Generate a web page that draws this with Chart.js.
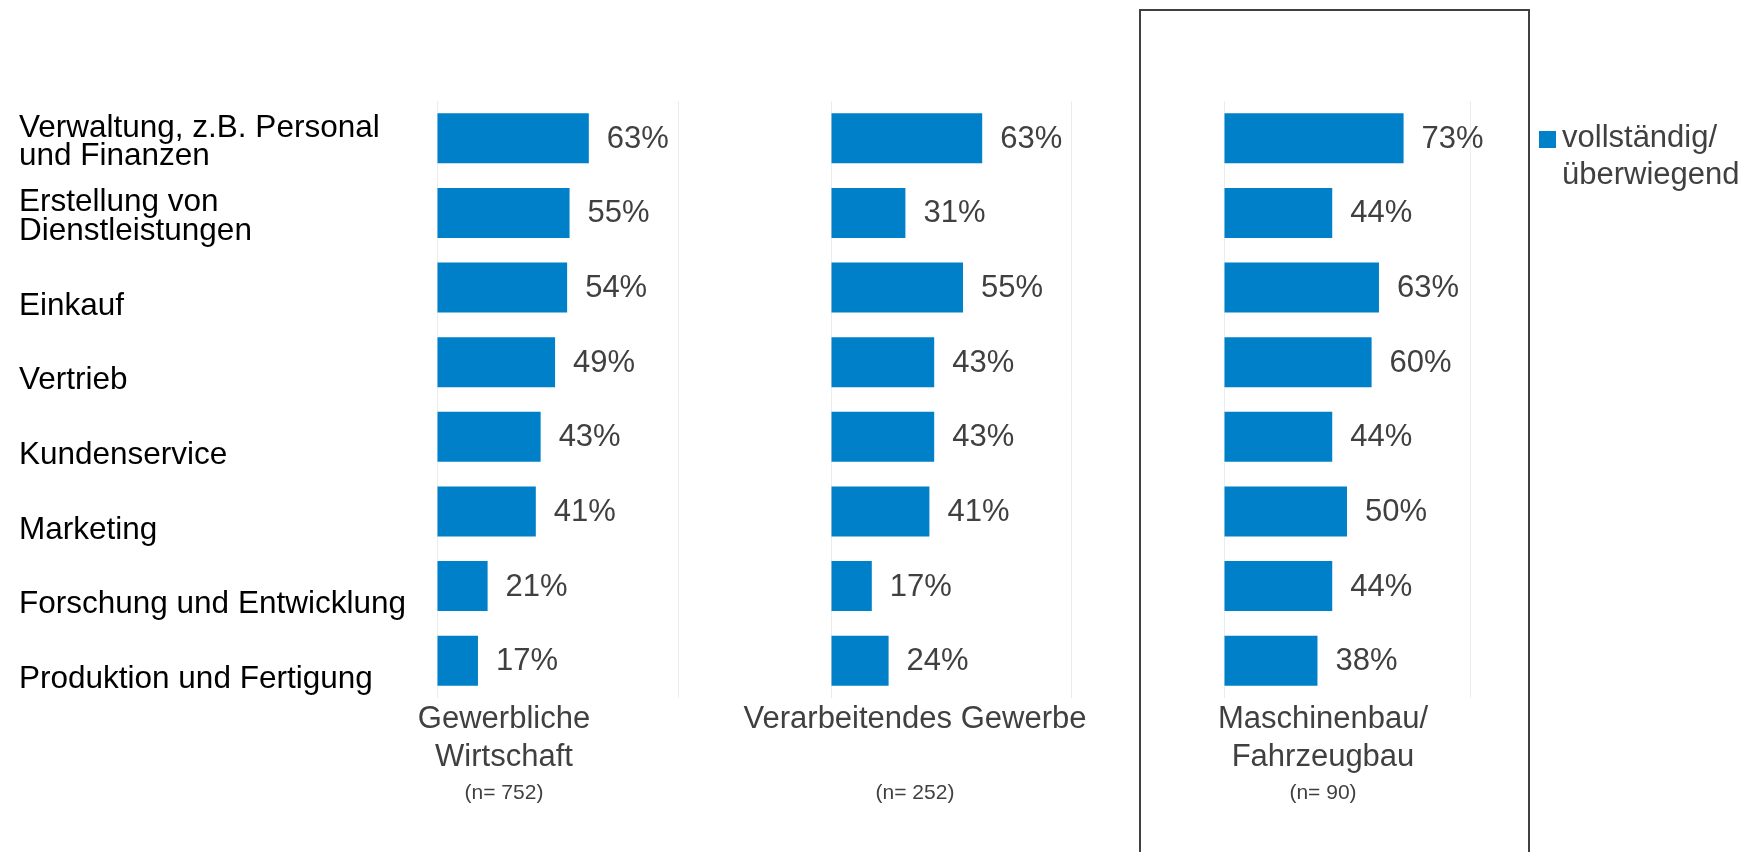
<!DOCTYPE html>
<html>
<head>
<meta charset="utf-8">
<script src="https://cdn.jsdelivr.net/npm/chart.js@4"></script>
<style>
    body { margin: 0; background: #fff; }
    #page { position: relative; width: 1758px; height: 852px; overflow: hidden; background: #fff; font-family: "Liberation Sans", Arial, sans-serif; }
    canvas { position: absolute; left: 0; top: 0; }
    .titel { position: absolute; width: 400px; text-align: center; font-size: 31px; line-height: 38px; color: #404040; }
    .anzahl { position: absolute; width: 200px; text-align: center; font-size: 21px; line-height: 24px; color: #404040; }
    #rahmen { position: absolute; left: 1139px; top: 9px; width: 387px; height: 900px; border: 2px solid #404040; }
    #legende { position: absolute; left: 1539px; top: 118px; font-size: 31px; line-height: 37px; color: #404040; }
    #legende span { position: absolute; left: 0; top: 13px; width: 17px; height: 17px; background: #0080c8; }
    #legende div { margin-left: 23px; white-space: nowrap; }
</style>
</head>
<body>
<div id="page">
    <div id="rahmen"></div>
    <canvas id="chart1" width="1758" height="852"></canvas>
    <canvas id="chart2" width="1758" height="852"></canvas>
    <canvas id="chart3" width="1758" height="852"></canvas>
    <div id="titel1" class="titel"></div>
    <div id="titel2" class="titel"></div>
    <div id="titel3" class="titel"></div>
    <div id="anzahl1" class="anzahl"></div>
    <div id="anzahl2" class="anzahl"></div>
    <div id="anzahl3" class="anzahl"></div>
    <div id="legende"><span></span><div id="legendeText"></div></div>
</div>
<script>
var categories = [
    ['Verwaltung, z.B. Personal', 'und Finanzen'],
    ['Erstellung von', 'Dienstleistungen'],
    'Einkauf',
    'Vertrieb',
    'Kundenservice',
    'Marketing',
    'Forschung und Entwicklung',
    'Produktion und Fertigung'
];
var gewerblicheWirtschaft = [63, 55, 54, 49, 43, 41, 21, 17];
var verarbeitendesGewerbe = [63, 31, 55, 43, 43, 41, 17, 24];
var maschinenbau = [73, 44, 63, 60, 44, 50, 44, 38];
var panelTitles = [['Gewerbliche', 'Wirtschaft'], ['Verarbeitendes Gewerbe'], ['Maschinenbau/', 'Fahrzeugbau']];
var panelCounts = ['(n= 752)', '(n= 252)', '(n= 90)'];
var seriesName = ['vollständig/', 'überwiegend'];
var axisTicks = [0, 100];

var fontFamily = '"Liberation Sans", Arial, sans-serif';

var valueLabels = {
    id: 'valueLabels',
    afterDatasetsDraw: function (chart) {
        var ctx = chart.ctx;
        var meta = chart.getDatasetMeta(0);
        var data = chart.data.datasets[0].data;
        ctx.save();
        ctx.font = '31px ' + fontFamily;
        ctx.fillStyle = '#404040';
        ctx.textAlign = 'left';
        ctx.textBaseline = 'middle';
        for (var i = 0; i < meta.data.length; i++) {
            var bar = meta.data[i];
            ctx.fillText(data[i] + '%', bar.x + 18, bar.y + 1);
        }
        ctx.restore();
    }
};

function makeChart(id, values, left, right, showLabels) {
    var ctx = document.getElementById(id).getContext('2d');
    return new Chart(ctx, {
        type: 'bar',
        data: {
            labels: categories,
            datasets: [{
                label: seriesName.join(' '),
                data: values,
                backgroundColor: '#0080c8',
                borderWidth: 0,
                categoryPercentage: 0.67,
                barPercentage: 1.0
            }]
        },
        options: {
            indexAxis: 'y',
            responsive: false,
            animation: false,
            devicePixelRatio: 1,
            layout: {
                padding: { left: left, right: 1758 - right, top: 101, bottom: 154 }
            },
            plugins: {
                legend: { display: false },
                tooltip: { enabled: false }
            },
            scales: {
                x: {
                    min: axisTicks[0],
                    max: axisTicks[1],
                    afterBuildTicks: function (scale) {
                        scale.ticks = axisTicks.map(function (v) { return { value: v }; });
                    },
                    ticks: { display: false },
                    grid: { color: '#ececec', lineWidth: 1, drawTicks: false },
                    border: { display: false }
                },
                y: {
                    display: showLabels,
                    grid: { display: false },
                    border: { display: false },
                    ticks: {
                        autoSkip: false,
                        crossAlign: 'far',
                        labelOffset: 4,
                        color: '#000000',
                        font: { family: fontFamily, size: 31.5, lineHeight: 0.92 },
                        // Excel setzt einzeilige Beschriftungen auf die untere Zeile
                        callback: function (value) {
                            var label = this.getLabelForValue(value);
                            return Array.isArray(label) ? label : ['', label];
                        }
                    },
                    afterFit: function (scale) {
                        scale.width = 437 - left;
                    }
                }
            }
        },
        plugins: [valueLabels]
    });
}

makeChart('chart1', gewerblicheWirtschaft, 19, 678, true);
makeChart('chart2', verarbeitendesGewerbe, 831, 1071, false);
makeChart('chart3', maschinenbau, 1224, 1470, false);

var titleCenters = [504, 915, 1323];
for (var i = 0; i < 3; i++) {
    var t = document.getElementById('titel' + (i + 1));
    t.innerHTML = panelTitles[i].join('<br>');
    t.style.left = (titleCenters[i] - 200) + 'px';
    t.style.top = '699px';
    var n = document.getElementById('anzahl' + (i + 1));
    n.textContent = panelCounts[i];
    n.style.left = (titleCenters[i] - 100) + 'px';
    n.style.top = '780px';
}
document.getElementById('legendeText').innerHTML = seriesName.join('<br>');
</script>
</body>
</html>
